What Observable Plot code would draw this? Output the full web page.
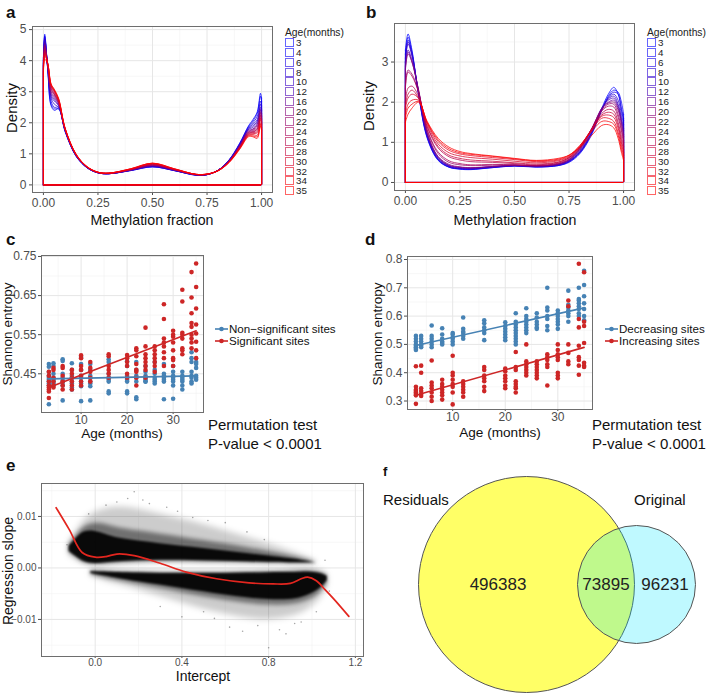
<!DOCTYPE html>
<html><head><meta charset="utf-8">
<script src="https://cdn.jsdelivr.net/npm/d3@7"></script>
<script src="https://cdn.jsdelivr.net/npm/@observablehq/plot@0.6"></script>
<style>
body{margin:0;background:#fff;}
#fig{position:relative;width:709px;height:694px;overflow:hidden;background:#fff;font-family:"Liberation Sans",Arial,sans-serif;color:#111;}
.abs{position:absolute;white-space:nowrap;line-height:1;}
</style></head><body><div id="fig"></div>
<script>
// ---------------- DATA ----------------
const ages = [3,4,6,8,10,12,16,20,22,24,26,28,30,32,34,35];

// panel a: density of methylation fraction per age
const xsA = [0,0.006,0.02,0.035,0.05,0.07,0.1,0.15,0.2,0.25,0.3,0.4,0.5,0.6,0.7,0.75,0.8,0.85,0.9,0.94,0.96,0.98,0.995,1.0];
const densA = [
 [4.1,4.85,3.7,2.55,2.4,2.45,1.7,0.92,0.55,0.39,0.36,0.46,0.58,0.46,0.31,0.33,0.47,0.8,1.35,1.9,2.1,2.35,2.95,2.8],
 [4.0,4.8,3.7,2.6,2.45,2.45,1.72,0.92,0.55,0.39,0.36,0.46,0.58,0.46,0.31,0.33,0.47,0.79,1.33,1.88,2.05,2.3,2.85,2.7],
 [4.0,4.75,3.72,2.7,2.5,2.5,1.73,0.93,0.55,0.39,0.36,0.47,0.59,0.46,0.32,0.33,0.47,0.79,1.32,1.85,2.0,2.2,2.7,2.55],
 [4.05,4.7,3.75,2.8,2.6,2.5,1.74,0.93,0.56,0.39,0.36,0.47,0.6,0.47,0.32,0.33,0.47,0.78,1.3,1.82,1.95,2.1,2.6,2.45],
 [3.95,4.7,3.78,2.85,2.7,2.55,1.74,0.94,0.56,0.39,0.36,0.47,0.6,0.47,0.32,0.33,0.47,0.78,1.3,1.8,1.9,2.05,2.5,2.4],
 [3.9,4.6,3.8,2.9,2.75,2.55,1.75,0.94,0.56,0.39,0.36,0.47,0.61,0.47,0.32,0.33,0.47,0.77,1.28,1.78,1.85,2.0,2.45,2.3],
 [3.85,4.55,3.8,2.95,2.8,2.6,1.76,0.94,0.56,0.39,0.36,0.48,0.62,0.48,0.33,0.34,0.47,0.77,1.27,1.75,1.8,1.95,2.4,2.25],
 [3.9,4.5,3.82,3.0,2.85,2.62,1.76,0.95,0.57,0.4,0.37,0.48,0.63,0.48,0.33,0.34,0.47,0.76,1.25,1.72,1.78,1.9,2.35,2.2],
 [3.8,4.45,3.85,3.05,2.9,2.65,1.77,0.95,0.57,0.4,0.37,0.49,0.64,0.49,0.33,0.34,0.46,0.75,1.24,1.7,1.75,1.85,2.3,2.15],
 [3.85,4.4,3.85,3.1,2.92,2.65,1.78,0.96,0.57,0.4,0.37,0.49,0.65,0.49,0.33,0.34,0.46,0.75,1.23,1.68,1.72,1.8,2.25,2.1],
 [3.8,4.35,3.88,3.15,2.95,2.7,1.78,0.96,0.57,0.4,0.37,0.5,0.66,0.5,0.33,0.34,0.46,0.74,1.22,1.66,1.7,1.78,2.2,2.05],
 [3.75,4.3,3.9,3.18,3.0,2.7,1.79,0.97,0.58,0.4,0.37,0.5,0.67,0.5,0.34,0.34,0.46,0.74,1.2,1.64,1.68,1.72,2.15,2.0],
 [3.7,4.25,3.9,3.2,3.02,2.72,1.8,0.97,0.58,0.41,0.38,0.51,0.68,0.51,0.34,0.35,0.46,0.73,1.2,1.62,1.65,1.68,2.1,1.95],
 [3.65,4.2,3.92,3.22,3.05,2.75,1.8,0.98,0.58,0.41,0.38,0.51,0.69,0.51,0.34,0.35,0.45,0.72,1.18,1.6,1.62,1.6,2.0,1.85],
 [3.6,4.15,3.9,3.25,3.05,2.75,1.81,0.98,0.59,0.41,0.38,0.52,0.7,0.52,0.34,0.35,0.45,0.72,1.17,1.58,1.58,1.55,1.95,1.8],
 [3.55,4.05,3.88,3.25,3.08,2.78,1.82,0.99,0.59,0.41,0.38,0.52,0.7,0.52,0.34,0.35,0.45,0.71,1.15,1.55,1.55,1.5,1.9,1.75]
];

// panel b
const xsB = [0,0.012,0.03,0.06,0.1,0.15,0.2,0.25,0.3,0.4,0.5,0.6,0.7,0.75,0.8,0.85,0.9,0.93,0.955,0.975,0.99,1.0];
const densB = [
 [3.3,3.7,3.3,2.2,1.1,0.55,0.38,0.33,0.32,0.37,0.41,0.39,0.42,0.52,0.75,1.2,1.85,2.2,2.37,2.2,1.8,1.55],
 [3.2,3.62,3.25,2.2,1.12,0.56,0.38,0.34,0.33,0.37,0.41,0.38,0.42,0.5,0.72,1.15,1.8,2.15,2.3,2.25,2.0,1.7],
 [3.1,3.55,3.2,2.22,1.15,0.57,0.39,0.34,0.33,0.38,0.42,0.39,0.43,0.52,0.74,1.18,1.82,2.12,2.25,2.2,1.85,1.6],
 [3.0,3.5,3.2,2.25,1.15,0.58,0.4,0.35,0.34,0.38,0.42,0.4,0.44,0.53,0.76,1.2,1.8,2.1,2.2,2.05,1.7,1.45],
 [3.0,3.45,3.15,2.27,1.18,0.6,0.41,0.36,0.35,0.39,0.42,0.4,0.44,0.54,0.78,1.22,1.82,2.08,2.15,1.95,1.6,1.35],
 [2.9,3.3,3.05,2.28,1.2,0.62,0.42,0.37,0.36,0.39,0.42,0.4,0.45,0.55,0.8,1.25,1.85,2.05,2.1,1.9,1.55,1.3],
 [2.85,3.25,3.0,2.3,1.22,0.63,0.43,0.38,0.36,0.4,0.43,0.41,0.45,0.56,0.82,1.28,1.85,2.0,2.05,1.85,1.5,1.2],
 [2.8,3.2,3.0,2.32,1.25,0.65,0.45,0.39,0.37,0.4,0.43,0.41,0.46,0.57,0.84,1.3,1.83,1.98,2.0,1.8,1.45,1.15],
 [2.4,2.8,2.7,2.25,1.3,0.72,0.5,0.44,0.42,0.43,0.44,0.42,0.47,0.58,0.85,1.3,1.8,1.95,1.95,1.7,1.35,1.05],
 [2.35,2.75,2.65,2.25,1.32,0.76,0.54,0.47,0.44,0.45,0.44,0.42,0.48,0.6,0.86,1.3,1.78,1.9,1.88,1.62,1.28,1.0],
 [2.0,2.35,2.4,2.15,1.38,0.86,0.64,0.56,0.52,0.5,0.47,0.44,0.5,0.62,0.88,1.3,1.72,1.82,1.78,1.5,1.15,0.9],
 [1.9,2.2,2.3,2.1,1.4,0.9,0.68,0.6,0.56,0.53,0.49,0.46,0.51,0.62,0.88,1.28,1.68,1.75,1.7,1.42,1.05,0.82],
 [1.85,2.1,2.2,2.1,1.45,0.96,0.74,0.66,0.62,0.58,0.53,0.49,0.54,0.64,0.9,1.3,1.65,1.68,1.62,1.35,0.98,0.75],
 [1.7,1.95,2.05,2.05,1.48,1.02,0.8,0.71,0.67,0.62,0.57,0.52,0.56,0.66,0.92,1.28,1.6,1.6,1.52,1.25,0.9,0.68],
 [1.6,1.85,1.95,2.02,1.5,1.06,0.84,0.74,0.7,0.65,0.59,0.54,0.58,0.68,0.92,1.25,1.52,1.52,1.45,1.18,0.82,0.62],
 [1.5,1.7,1.85,2.0,1.52,1.1,0.88,0.77,0.72,0.66,0.6,0.55,0.6,0.68,0.88,1.15,1.42,1.44,1.36,1.1,0.75,0.55]
];

// panel c: Shannon entropy per age
const cNonsig = [
 [0.475,0.468,0.455,0.445,0.44,0.435,0.43,0.425,0.42,0.372],
 [0.477,0.47,0.45,0.44,0.435,0.43,0.425,0.42],
 [0.487,0.483,0.45,0.44,0.432,0.428,0.42,0.382],
 [0.477,0.46,0.445,0.44,0.43,0.425,0.415,0.41],
 [0.493,0.475,0.46,0.445,0.44,0.43,0.425,0.418,0.38],
 [0.475,0.46,0.445,0.44,0.43,0.425,0.418,0.382],
 [0.487,0.48,0.45,0.44,0.435,0.43,0.405,0.4],
 [0.482,0.47,0.445,0.44,0.435,0.43,0.405,0.4],
 [0.48,0.46,0.445,0.44,0.43,0.39,0.385],
 [0.47,0.455,0.445,0.44,0.435,0.43,0.43],
 [0.48,0.46,0.45,0.44,0.435,0.43,0.425],
 [0.475,0.45,0.445,0.44,0.435,0.43,0.385],
 [0.47,0.455,0.445,0.44,0.435,0.43,0.42,0.386],
 [0.455,0.445,0.44,0.435,0.43,0.42,0.41],
 [0.505,0.49,0.48,0.455,0.445,0.44,0.43,0.425],
 [0.48,0.475,0.465,0.445,0.44,0.435]
];
const cSig = [
 [0.455,0.445,0.43,0.42,0.415,0.41,0.405,0.388],
 [0.465,0.46,0.44,0.43,0.42,0.415],
 [0.47,0.465,0.445,0.43,0.42,0.41],
 [0.46,0.45,0.44,0.43,0.42,0.41],
 [0.497,0.49,0.47,0.46,0.445,0.43,0.42],
 [0.48,0.465,0.455,0.44,0.43],
 [0.5,0.495,0.47,0.46,0.45,0.44],
 [0.498,0.49,0.48,0.47,0.45,0.44],
 [0.515,0.51,0.495,0.475,0.46,0.455,0.44,0.42],
 [0.568,0.52,0.5,0.49,0.48,0.47,0.46,0.44],
 [0.52,0.51,0.5,0.49,0.48,0.47,0.455],
 [0.628,0.59,0.54,0.53,0.52,0.505,0.49,0.47],
 [0.56,0.55,0.545,0.53,0.51,0.49,0.485,0.47],
 [0.665,0.635,0.555,0.55,0.54,0.515,0.51,0.5],
 [0.71,0.645,0.605,0.58,0.57,0.55,0.54,0.53,0.515],
 [0.732,0.672,0.617,0.576,0.553,0.532,0.51,0.49]
];

// panel d
const dDec = [
 [0.53,0.52,0.51,0.5,0.495,0.49,0.485,0.48],
 [0.53,0.52,0.51,0.5,0.495,0.49],
 [0.567,0.53,0.52,0.51,0.5,0.49],
 [0.557,0.535,0.52,0.51,0.505,0.5],
 [0.54,0.535,0.525,0.52,0.51,0.5],
 [0.595,0.555,0.545,0.54,0.53,0.52],
 [0.585,0.575,0.56,0.55,0.54,0.515],
 [0.578,0.565,0.555,0.545,0.535,0.525,0.515],
 [0.61,0.58,0.57,0.56,0.55,0.54,0.53,0.52,0.51,0.5],
 [0.628,0.6,0.59,0.58,0.57,0.56,0.55,0.54],
 [0.61,0.595,0.58,0.57,0.56,0.555],
 [0.7,0.63,0.62,0.6,0.59,0.565,0.55],
 [0.62,0.61,0.6,0.59,0.58,0.57,0.555],
 [0.69,0.64,0.63,0.62,0.61,0.6,0.58],
 [0.7,0.66,0.655,0.645,0.635,0.625,0.61,0.6],
 [0.76,0.71,0.67,0.645,0.625,0.6,0.585]
];
const dInc = [
 [0.423,0.35,0.34,0.335,0.33,0.325,0.32,0.29],
 [0.425,0.4,0.345,0.335,0.325,0.318],
 [0.443,0.365,0.355,0.345,0.33,0.315,0.3],
 [0.375,0.36,0.35,0.34,0.33,0.32,0.305],
 [0.46,0.4,0.39,0.375,0.36,0.35,0.33,0.288],
 [0.37,0.36,0.35,0.34,0.33,0.315],
 [0.42,0.41,0.39,0.38,0.37,0.35,0.335],
 [0.415,0.405,0.39,0.38,0.37,0.355,0.345],
 [0.473,0.42,0.41,0.37,0.36,0.35,0.345,0.33],
 [0.5,0.44,0.43,0.42,0.41,0.4,0.39],
 [0.44,0.43,0.42,0.41,0.4,0.39,0.38],
 [0.465,0.455,0.445,0.43,0.42,0.355],
 [0.5,0.48,0.465,0.455,0.445,0.4,0.39,0.38],
 [0.655,0.635,0.5,0.47,0.44,0.43],
 [0.785,0.59,0.56,0.495,0.455,0.445,0.425,0.393],
 [0.755,0.58,0.565,0.505,0.435,0.425,0.42]
];

// panel e: point cloud envelopes (slope vs intercept)
const eUpX      = [-0.12,-0.08,-0.05,0.0,0.05,0.1,0.2,0.3,0.4,0.5,0.6,0.7,0.8,0.9,0.97,1.02];
const eUpOutLo  = [0.0025,0.0015,0.0008,0.0005,0.0006,0.0008,0.001,0.0011,0.0011,0.001,0.001,0.0009,0.0008,0.0007,0.0007,0.0009];
const eUpOutHi  = [0.005,0.0075,0.0095,0.011,0.0115,0.012,0.0115,0.0105,0.0095,0.0085,0.0072,0.006,0.0047,0.0033,0.0022,0.0012];
const eUpMidLo  = [0.003,0.0018,0.0009,0.0007,0.0008,0.001,0.0012,0.0013,0.0013,0.0012,0.0012,0.0011,0.001,0.0009,0.0009,0.001];
const eUpMidHi  = [0.0045,0.0068,0.0082,0.0088,0.0085,0.0078,0.0072,0.0066,0.006,0.0053,0.0047,0.004,0.0032,0.0024,0.0017,0.0011];
const eUpCoreLo = [0.0032,0.002,0.0011,0.0008,0.001,0.0012,0.0014,0.0015,0.0015,0.0014,0.0013,0.0012,0.0011,0.001,0.001,0.001];
const eUpCoreHi = [0.0042,0.0062,0.0072,0.0072,0.0065,0.0058,0.0052,0.0047,0.0042,0.0038,0.0033,0.0028,0.0023,0.0018,0.0014,0.001];
const eLoX      = [-0.02,0.05,0.1,0.2,0.3,0.4,0.5,0.6,0.7,0.8,0.9,0.95,1.0,1.04,1.07];
const eLoOutLo  = [-0.0015,-0.0025,-0.003,-0.0042,-0.0055,-0.0068,-0.008,-0.009,-0.0098,-0.0102,-0.0095,-0.0088,-0.0075,-0.006,-0.0035];
const eLoOutHi  = [-0.0004,-0.0005,-0.0006,-0.0007,-0.0008,-0.0008,-0.0008,-0.0008,-0.0007,-0.0006,-0.0005,-0.0004,-0.0003,-0.0005,-0.0012];
const eLoMidLo  = [-0.0013,-0.002,-0.0024,-0.0032,-0.004,-0.0048,-0.0056,-0.0063,-0.0069,-0.0073,-0.0072,-0.0068,-0.006,-0.0048,-0.003];
const eLoMidHi  = [-0.0006,-0.0007,-0.0008,-0.0009,-0.001,-0.001,-0.001,-0.001,-0.0009,-0.0008,-0.0007,-0.0006,-0.0006,-0.0008,-0.0014];
const eLoCoreLo = [-0.0011,-0.0016,-0.002,-0.0027,-0.0033,-0.004,-0.0046,-0.0053,-0.0058,-0.0062,-0.0062,-0.0058,-0.005,-0.004,-0.0025];
const eLoCoreHi = [-0.0007,-0.0008,-0.0009,-0.001,-0.0011,-0.0011,-0.0011,-0.0011,-0.001,-0.0009,-0.0009,-0.0008,-0.0008,-0.001,-0.0016];
const eSparseX  = [0.18,0.25,0.33,0.1,0.05,-0.03,0.45,0.6,0.7,0.4,0.55,0.62,0.75,0.8,0.88,0.92,1.02,1.08,1.06,-0.13,0.68,0.5,0.3,0.85,0.95,0.22,0.15,0.38,0.52,0.78];
const eSparseY  = [0.0148,0.0125,0.0118,0.0128,0.0122,0.0105,0.0098,0.0088,0.007,-0.0095,-0.0098,-0.0115,-0.0112,-0.0155,-0.0128,-0.0108,-0.0085,-0.0045,0.0015,0.0045,-0.0123,-0.0085,-0.0075,-0.012,-0.0105,0.0132,0.0135,0.011,0.0092,0.0055];
const eLoessX   = [-0.18,-0.12,-0.06,0.0,0.05,0.1,0.18,0.3,0.42,0.56,0.71,0.82,0.9,0.95,0.98,1.02,1.06,1.1,1.17];
const eLoessY   = [0.0117,0.0075,0.003,0.0021,0.0022,0.0027,0.0024,0.0009,-0.0008,-0.0021,-0.0029,-0.0031,-0.003,-0.0021,-0.0018,-0.0025,-0.0042,-0.006,-0.0094];

// panel f: Venn
const vennNames = ["Residuals","Original"];
const vennOnly  = [496383, 96231];
const vennBoth  = 73895;

// ticks
const abTicksX = [0,0.25,0.5,0.75,1], abMinorX = [0.125,0.375,0.625,0.875];
const aTicksY = [0,1,2,3,4,5], aMinorY = [0.5,1.5,2.5,3.5,4.5];
const bTicksY = [0,1,2,3], bMinorY = [0.5,1.5,2.5,3.5];
const cdTicksX = [10,20,30], cdMinorX = [5,15,25,35];
const cTicksY = [0.45,0.55,0.65,0.75], cMinorY = [0.4,0.5,0.6,0.7];
const dTicksY = [0.3,0.4,0.5,0.6,0.7,0.8], dMinorY = [0.35,0.45,0.55,0.65,0.75];
const eTicksX = [0,0.4,0.8,1.2], eMinorX = [-0.2,0.2,0.6,1.0];
const eTicksY = [-0.01,0,0.01], eMinorY = [-0.015,-0.005,0.005,0.015];

// ---------------- HELPERS ----------------
const fig = document.getElementById("fig");
const FONT = '"Liberation Sans", Arial, sans-serif';
function put(node, left, top){ node.style.position="absolute"; node.style.left=left+"px"; node.style.top=top+"px"; fig.appendChild(node); return node; }
function txt(s, x, y, o={}){
  const d=document.createElement("div"); d.className="abs"; d.textContent=s;
  d.style.fontSize=(o.size||14)+"px"; if(o.bold) d.style.fontWeight="bold";
  d.style.color=o.color||"#111"; d.style.left=x+"px"; d.style.top=y+"px";
  let tr = o.anchor==="middle" ? "translate(-50%,-50%)" : "translate(0,-50%)";
  if(o.rotate) tr = "translate(-50%,-50%) rotate(-90deg)";
  d.style.transform=tr; fig.appendChild(d);
}
const style = (fs)=>({fontFamily:FONT, fontSize:fs+"px", background:"transparent", color:"#4d4d4d", overflow:"visible"});
function grid(mx,my,nx,ny){
  return [
    Plot.ruleX(nx,{stroke:"#f2f2f2",strokeWidth:0.6}),
    Plot.ruleY(ny,{stroke:"#f2f2f2",strokeWidth:0.6}),
    Plot.ruleX(mx,{stroke:"#e6e6e6",strokeWidth:1}),
    Plot.ruleY(my,{stroke:"#e6e6e6",strokeWidth:1})
  ];
}
function axes(tx,ty,fx,fy,sx,px,sy,py){
  return [
    Plot.axisX(tx,{tickSize:sx,tickPadding:px,tickFormat:fx,label:null,color:"#4d4d4d"}),
    Plot.axisY(ty,{tickSize:sy,tickPadding:py,tickFormat:fy,label:null,color:"#4d4d4d"})
  ];
}
const ageColor = d3.scaleLinear().domain([3,35]).range(["#0000ff","#ff0000"]).interpolate(d3.interpolateRgb);

// ---------------- PANELS a, b ----------------
function densityPanel(xs, dens, yDom, yt, ym, w, h, m){
  const rows = ages.flatMap((a,i)=>xs.map((x,j)=>({age:a,x,y:dens[i][j]})));
  const edges = ages.flatMap((a,i)=>[{age:a,x:xs[0],y:dens[i][0]},{age:a,x:xs[xs.length-1],y:dens[i][xs.length-1]}]);
  return Plot.plot({
    width:w,height:h,marginLeft:m[0],marginRight:m[1],marginTop:m[2],marginBottom:m[3],
    style:style(12),
    x:{domain:[-0.05,1.05]}, y:{domain:yDom},
    color:{type:"linear",domain:[3,35],range:["#0000ff","#ff0000"],interpolate:"rgb"},
    marks:[
      ...grid(abTicksX,yt,abMinorX,ym),
      Plot.ruleY(ages,{y:0,x1:xs[0],x2:xs[xs.length-1],stroke:d=>d,strokeWidth:1,strokeOpacity:0.8}),
      Plot.ruleX(edges,{x:"x",y1:0,y2:"y",stroke:"age",strokeWidth:1,strokeOpacity:0.8}),
      Plot.line(rows,{x:"x",y:"y",z:"age",stroke:"age",curve:"catmull-rom",strokeWidth:1,strokeOpacity:0.75}),
      ...axes(abTicksX,yt,d3.format(".2f"),d3.format("d"),3,3,3,3),
      Plot.frame({stroke:"#6e6e6e"})
    ]
  });
}
put(densityPanel(xsA, densA, [-0.245,5.1], aTicksY, aMinorY, 280, 215, [32,8,26,23]), 0, 0);
put(densityPanel(xsB, densB, [-0.2,3.96], bTicksY, bMinorY, 285, 215, [34,11,23,25]), 360, 0);

function ageLegend(x, y0, step){
  txt("Age(months)", x, y0-9.8, {size:10.3, color:"#222"});
  ages.forEach((a,i)=>{
    const s=document.createElement("div");
    s.style.cssText=`position:absolute;left:${x}px;top:${y0+i*step-4.5}px;width:7px;height:7px;border:1px solid ${ageColor(a)};opacity:0.6;background:#fff`;
    fig.appendChild(s);
    txt(String(a), x+11, y0+i*step+0.5, {size:9.8, color:"#222"});
  });
}
ageLegend(285, 42.3, 9.9);
ageLegend(647, 42.3, 9.9);

// ---------------- PANELS c, d ----------------
const BLUE = "#4682b4", RED = "#cd2626";
function scatterPanel(s1, s2, yDom, yt, ym, w, h, m){
  const r1 = ages.flatMap((a,i)=>s1[i].map(v=>({age:a,v})));
  const r2 = ages.flatMap((a,i)=>s2[i].map(v=>({age:a,v})));
  return Plot.plot({
    width:w,height:h,marginLeft:m[0],marginRight:m[1],marginTop:m[2],marginBottom:m[3],
    style:style(12),
    x:{domain:[1.4,36.6]}, y:{domain:yDom},
    marks:[
      ...grid(cdTicksX,yt,cdMinorX,ym),
      Plot.dot(r1,{x:"age",y:"v",r:2.3,fill:BLUE,stroke:"none"}),
      Plot.dot(r2,{x:"age",y:"v",r:2.3,fill:RED,stroke:"none"}),
      Plot.linearRegressionY(r1,{x:"age",y:"v",stroke:BLUE,strokeWidth:1.6,ci:0}),
      Plot.linearRegressionY(r2,{x:"age",y:"v",stroke:RED,strokeWidth:1.6,ci:0}),
      ...axes(cdTicksX,yt,d3.format("d"),d3.format(".2~f"),2,0.5,3,2),
      Plot.frame({stroke:"#6e6e6e"})
    ]
  });
}
put(scatterPanel(cNonsig, cSig, [0.351,0.7525], cTicksY, cMinorY, 210, 190, [41,7,15,18]), 0, 240);
put(scatterPanel(dDec, dInc, [0.27,0.8106], dTicksY, dMinorY, 240, 190, [47,8,16,21]), 360, 240);

function keyLegend(x, y, color, label){
  const k=document.createElementNS("http://www.w3.org/2000/svg","svg");
  k.setAttribute("width","13"); k.setAttribute("height","8");
  k.innerHTML=`<line x1="0" x2="13" y1="4" y2="4" stroke="${color}" stroke-width="1.6"/><circle cx="6.5" cy="4" r="2.3" fill="${color}"/>`;
  put(k, x, y-4);
  txt(label, x+14, y, {size:11.6, color:"#111"});
}
keyLegend(215, 329.3, BLUE, "Non\u2212significant sites");
keyLegend(215, 341.0, RED, "Significant sites");
keyLegend(605, 329.3, BLUE, "Decreasing sites");
keyLegend(605, 341.0, RED, "Increasing sites");

// ---------------- PANEL e ----------------
const eUp = eUpX.map((x,i)=>({x,ol:eUpOutLo[i],oh:eUpOutHi[i],ml:eUpMidLo[i],mh:eUpMidHi[i],cl:eUpCoreLo[i],ch:eUpCoreHi[i]}));
const eLo = eLoX.map((x,i)=>({x,ol:eLoOutLo[i],oh:eLoOutHi[i],ml:eLoMidLo[i],mh:eLoMidHi[i],cl:eLoCoreLo[i],ch:eLoCoreHi[i]}));
const eSparse = eSparseX.map((x,i)=>({x,y:eSparseY[i]}));
const eLoess = eLoessX.map((x,i)=>({x,y:eLoessY[i]}));
function cloud(rows){
  return [
    Plot.areaY(rows,{x:"x",y1:"ol",y2:"oh",fill:"#000",fillOpacity:0.2,curve:"basis"}),
    Plot.areaY(rows,{x:"x",y1:"ml",y2:"mh",fill:"#000",fillOpacity:0.45,curve:"basis"}),
    Plot.areaY(rows,{x:"x",y1:"cl",y2:"ch",fill:"#000",fillOpacity:0.92,curve:"basis"})
  ];
}
const eSvg = put(Plot.plot({
  width:368,height:200,marginLeft:41,marginRight:5,marginTop:13,marginBottom:14,
  style:style(10),
  x:{domain:[-0.2475,1.2375]}, y:{domain:[-0.0172,0.0164]},
  marks:[
    ...grid(eTicksX,eTicksY,eMinorX,eMinorY),
    Plot.dot(eSparse,{x:"x",y:"y",r:0.8,fill:"#000",fillOpacity:0.35,stroke:"none"}),
    ...cloud(eUp), ...cloud(eLo),
    Plot.line(eLoess,{x:"x",y:"y",stroke:"#e3261f",strokeWidth:1.7,curve:"catmull-rom"}),
    ...axes(eTicksX,eTicksY,d3.format(".1f"),d3.format(".2f"),2,0,3,2),
    Plot.frame({stroke:"#6e6e6e"})
  ]
}), 0, 470);
// soften the edges of the point-cloud bands
(function(){
  const ns="http://www.w3.org/2000/svg";
  const defs=document.createElementNS(ns,"defs");
  [["eb3",3.2],["eb2",2],["eb1",0.9]].forEach(([id,sd])=>{
    const f=document.createElementNS(ns,"filter"); f.setAttribute("id",id);
    f.setAttribute("x","-20%"); f.setAttribute("y","-50%"); f.setAttribute("width","140%"); f.setAttribute("height","200%");
    const g=document.createElementNS(ns,"feGaussianBlur"); g.setAttribute("stdDeviation",sd); f.appendChild(g); defs.appendChild(f);
  });
  eSvg.insertBefore(defs, eSvg.firstChild);
  const areas=eSvg.querySelectorAll('g[aria-label="area"]');
  const ids=["eb3","eb2","eb1","eb3","eb2","eb1"];
  areas.forEach((g,i)=>g.setAttribute("filter",`url(#${ids[i%6]})`));
})();

// ---------------- PANEL f ----------------
const vennTotals = [vennOnly[0]+vennBoth, vennOnly[1]+vennBoth];
const vennCX = [166, 276], vennCY = 144, rMax = 108;
const rS = d3.scaleSqrt().domain([0, d3.max(vennTotals)]).range([0, rMax]);
const rr = vennTotals.map(rS);
const circles = vennNames.map((n,i)=>({n, total:vennTotals[i], cx:vennCX[i], cy:vennCY}));
const vennNums = [
  {v:vennOnly[0], x:((vennCX[0]-rr[0])+(vennCX[1]-rr[1]))/2},
  {v:vennBoth,    x:((vennCX[1]-rr[1])+(vennCX[0]+rr[0]))/2},
  {v:vennOnly[1], x:((vennCX[0]+rr[0])+(vennCX[1]+rr[1]))/2}
];
put(Plot.plot({
  width:349,height:254,margin:0,style:style(17),
  x:{domain:[0,349],range:[0,349],axis:null}, y:{domain:[0,254],range:[0,254],axis:null},
  r:{type:"sqrt",domain:[0,d3.max(vennTotals)],range:[0,rMax]},
  marks:[
    Plot.dot(circles.slice(0,1),{x:"cx",y:"cy",r:"total",fill:"#ffff00",fillOpacity:0.6,stroke:"#555",strokeWidth:1}),
    Plot.dot(circles.slice(1),{x:"cx",y:"cy",r:"total",fill:"#00e8ff",fillOpacity:0.25,stroke:"#555",strokeWidth:1}),
    Plot.text(vennNums,{x:"x",y:()=>vennCY,text:d=>String(d.v),fill:"#222",fontSize:17})
  ]
}), 360, 440);

// ---------------- TEXT ----------------
txt("a", 6, 12, {size:17, bold:true});
txt("b", 366, 12, {size:17, bold:true});
txt("c", 6, 239, {size:17, bold:true});
txt("d", 365, 239, {size:17, bold:true});
txt("e", 6, 465, {size:17, bold:true});
txt("f", 383, 471, {size:13, bold:true});
txt("Density", 11, 108, {size:15, rotate:true});
txt("Density", 368, 106, {size:15, rotate:true});
txt("Methylation fraction", 152, 220, {size:14.2, anchor:"middle"});
txt("Methylation fraction", 515, 220, {size:14.2, anchor:"middle"});
txt("Shannon entropy", 8, 334, {size:13.5, rotate:true});
txt("Shannon entropy", 378, 334, {size:13.5, rotate:true});
txt("Age (months)", 122, 434, {size:13.6, anchor:"middle"});
txt("Age (months)", 500, 433, {size:13.6, anchor:"middle"});
txt("Permutation test", 208, 424, {size:15});
txt("P-value < 0.0001", 208, 443, {size:15});
txt("Permutation test", 592, 424, {size:15});
txt("P-value < 0.0001", 592, 443, {size:15});
txt("Regression slope", 8, 571, {size:14, rotate:true});
txt("Intercept", 203, 676, {size:14, anchor:"middle"});
txt("Residuals", 383, 499, {size:15});
txt("Original", 634, 499, {size:15});
</script></body></html>
